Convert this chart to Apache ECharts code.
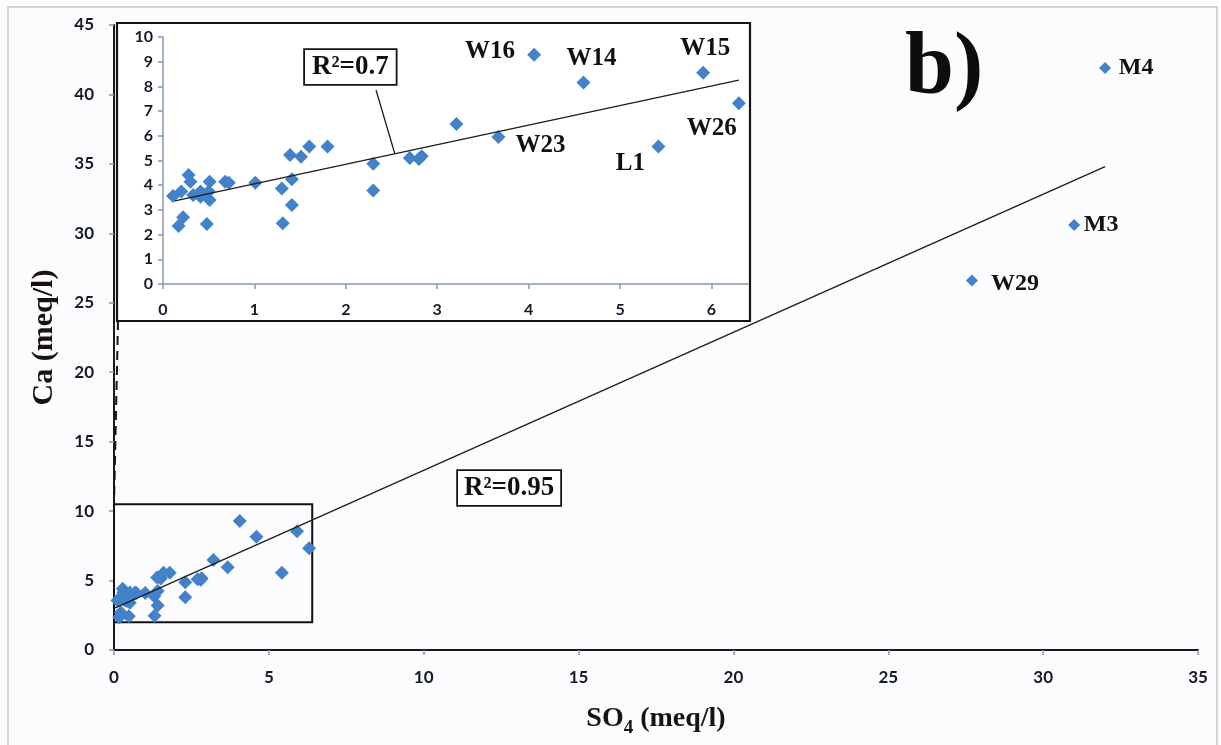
<!DOCTYPE html>
<html><head><meta charset="utf-8">
<script src="https://cdn.jsdelivr.net/npm/echarts@6/dist/echarts.min.js"></script>
<style>html,body{margin:0;padding:0;background:#fcfcfe}#c{width:1221px;height:745px}</style>
</head><body><div id="c"></div>
<script>
// ---------- data ----------
const insetSO4 = [0.11,0.17,0.22,0.20,0.28,0.30,0.33,0.41,0.41,0.48,0.51,0.51,0.50,0.68,0.72,1.01,1.30,1.31,1.39,1.41,1.41,1.51,1.60,1.80,2.30,2.30,2.70,2.80,2.83,3.21,3.67,4.06,4.60,5.42,5.91,6.30];
const insetCa  = [3.56,2.35,2.70,3.74,4.41,4.14,3.60,3.74,3.53,2.43,4.14,3.40,3.74,4.14,4.10,4.10,3.87,2.46,5.22,4.24,3.20,5.15,5.57,5.57,4.87,3.79,5.10,5.06,5.17,6.48,5.95,9.28,8.16,5.57,8.55,7.32];
const insetIds = ['','','','','','','','','','','','','','','','','','','','','','','','','','','','','','','W23','W16','W14','L1','W15','W26'];
const mainSO4 = [27.7, 31.0, 32.0];
const mainCa  = [26.6, 30.6, 41.9];
const mainIds = ['W29','M3','M4'];
const mainTrendX = [0, 32];
const mainTrendY = [3.0, 34.8];
const insetTrendX = [0.13, 6.3];
const insetTrendY = [3.37, 8.25];
const mainR2 = 'R²=0.95';
const insetR2 = 'R²=0.7';
const zoomBoxX = [0, 6.4];
const zoomBoxY = [2, 10.5];
const mainXTicks = [0,5,10,15,20,25,30,35];
const mainYTicks = [0,5,10,15,20,25,30,35,40,45];
const insetXTicks = [0,1,2,3,4,5,6];
const insetYTicks = [0,1,2,3,4,5,6,7,8,9,10];
const panelLabel = 'b)';
const yTitle = 'Ca (meq/l)';

// ---------- styles ----------
const SANS = 'Lato, "Open Sans", sans-serif';
const SERIF = '"Liberation Serif", "Times New Roman", serif';
const AXC = '#8698ae';
const BLUE = '#4382c8';
const labelOffsets = {
  W16:[-44,-3], W14:[8,-24], W15:[2,-24], W26:[-27,25], W23:[42,9], L1:[-28,17],
  M4:[31,0], M3:[27,0], W29:[43,3]
};
function pts(xs, ys, ids, fs){
  return xs.map((x,i)=>{
    const d = {value:[x, ys[i]]};
    if (ids && ids[i]) {
      d.label = {show:true, formatter: ids[i], position:'inside', offset: labelOffsets[ids[i]],
        fontFamily: SERIF, fontWeight:'bold', fontSize: fs, color:'#111'};
    }
    return d;
  });
}
function tickLabel(size, margin){
  return {fontFamily:SANS, fontWeight:'bold', fontSize:size, color:'#141a28', margin:margin};
}
const chart = echarts.init(document.getElementById('c'), null, {renderer:'canvas'});
const option = {
  backgroundColor:'#fcfcfe',
  animation:false,
  grid:[
    {left:114, top:25, width:1084, height:625},
    {left:163, top:37, width:585, height:247}
  ],
  xAxis:[
    {gridIndex:0, type:'value', min:0, max:35, interval:5, splitLine:{show:false},
     axisLine:{onZero:false, lineStyle:{color:AXC, width:1.5}},
     axisTick:{length:5, lineStyle:{color:AXC, width:1.5}, customValues: mainXTicks},
     axisLabel:Object.assign(tickLabel(17,19), {customValues: mainXTicks}),
     name: '{a|SO}{s|4}{a| (meq/l)}', nameLocation:'middle', nameGap:50,
     nameTextStyle:{rich:{
       a:{fontFamily:SERIF, fontWeight:'bold', fontSize:28, color:'#1a1212', lineHeight:38},
       s:{fontFamily:SERIF, fontWeight:'bold', fontSize:19, color:'#1a1212', lineHeight:38, verticalAlign:'bottom'}
     }}},
    {gridIndex:1, type:'value', min:0, max:6.4, interval:1, splitLine:{show:false},
     axisLine:{onZero:false, lineStyle:{color:AXC, width:1.5}},
     axisTick:{length:5, lineStyle:{color:AXC, width:1.5}, customValues: insetXTicks},
     axisLabel:Object.assign(tickLabel(16,18), {customValues: insetXTicks})},
    {gridIndex:0, type:'value', min:0, max:35, position:'top', splitLine:{show:false},
     axisLine:{show:true, lineStyle:{color:'#1a1a1a', width:2}}, axisTick:{show:false}, axisLabel:{show:false}}
  ],
  yAxis:[
    {gridIndex:0, type:'value', min:0, max:45, interval:5, splitLine:{show:false},
     axisLine:{show:true, onZero:false, lineStyle:{color:AXC, width:1.5}},
     axisTick:{show:true, length:5, lineStyle:{color:AXC, width:1.5}, customValues: mainYTicks},
     axisLabel:Object.assign(tickLabel(17,20), {customValues: mainYTicks}),
     name: yTitle, nameLocation:'middle', nameGap:55, nameRotate:90,
     nameTextStyle:{fontFamily:SERIF, fontWeight:'bold', fontSize:30, color:'#1a1212'}},
    {gridIndex:1, type:'value', min:0, max:10, interval:1, splitLine:{show:false},
     axisLine:{show:true, onZero:false, lineStyle:{color:AXC, width:1.5}},
     axisTick:{show:true, length:5, lineStyle:{color:AXC, width:1.5}, customValues: insetYTicks},
     axisLabel:Object.assign(tickLabel(16,10), {customValues: insetYTicks})},
    {gridIndex:0, type:'value', min:0, max:45, position:'right', splitLine:{show:false},
     axisLine:{show:true, lineStyle:{color:'#1a1a1a', width:2}}, axisTick:{show:false}, axisLabel:{show:false}}
  ],
  series:[
    {type:'line', xAxisIndex:0, yAxisIndex:0, data: mainTrendX.map((x,i)=>[x, mainTrendY[i]]),
     showSymbol:false, lineStyle:{color:'#1c1c1c', width:1.3}, z:3, silent:true},
    {type:'scatter', xAxisIndex:0, yAxisIndex:0, data: pts(insetSO4, insetCa, null, 0),
     symbol:'diamond', symbolSize:14, itemStyle:{color:BLUE, opacity:1}, z:2,
     markArea:{silent:true, itemStyle:{color:'rgba(0,0,0,0)', borderColor:'#111', borderWidth:2},
       data:[[{coord:[zoomBoxX[0], zoomBoxY[0]]},{coord:[zoomBoxX[1], zoomBoxY[1]]}]]}},
    {type:'scatter', xAxisIndex:0, yAxisIndex:0, data: pts(mainSO4, mainCa, mainIds, 24),
     symbol:'diamond', symbolSize:12, itemStyle:{color:BLUE, opacity:1}, z:4},
    {type:'scatter', xAxisIndex:1, yAxisIndex:1, data: pts(insetSO4, insetCa, insetIds, 25),
     symbol:'diamond', symbolSize:14, itemStyle:{color:BLUE, opacity:1}, z:4},
    {type:'line', xAxisIndex:1, yAxisIndex:1, data: insetTrendX.map((x,i)=>[x, insetTrendY[i]]),
     showSymbol:false, lineStyle:{color:'#1c1c1c', width:1.3}, z:5, silent:true}
  ]
};
chart.setOption(option);

// annotations (frames, connectors, R² boxes)
const insetBox = {x:117, y:23, w:633, h:298};
const zTopLeft = chart.convertToPixel({xAxisIndex:0, yAxisIndex:0}, [zoomBoxX[0], zoomBoxY[1]]);
const conX = insetTrendX[0] + (insetTrendX[1]-insetTrendX[0])*0.39;
const conY = insetTrendY[0] + (insetTrendY[1]-insetTrendY[0])*0.39;
const conPt = chart.convertToPixel({xAxisIndex:1, yAxisIndex:1}, [conX, conY]);
chart.setOption({
  graphic:[
    {type:'rect', z:-1, shape:{x:8, y:7, width:1209, height:745}, style:{fill:'#fcfcfe', stroke:'#c4c8cc', lineWidth:1.5}},
    {type:'rect', z:-1, shape:{x:insetBox.x, y:insetBox.y, width:insetBox.w, height:insetBox.h}, style:{fill:'#ffffff', stroke:'none'}},
    {type:'rect', z:50, shape:{x:insetBox.x, y:insetBox.y, width:insetBox.w, height:insetBox.h}, style:{fill:'none', stroke:'#141414', lineWidth:2.2}},
    {type:'line', z:50, shape:{x1:insetBox.x+1, y1:insetBox.y+insetBox.h, x2:zTopLeft[0], y2:zTopLeft[1]},
     style:{stroke:'#141414', lineWidth:2, lineDash:[9,6]}},
    {type:'line', z:50, shape:{x1:376, y1:90, x2:conPt[0], y2:conPt[1]}, style:{stroke:'#141414', lineWidth:1.2}},
    {type:'text', z:60, x:305, y:50, style:{text:insetR2, font:'bold 27px "Liberation Serif", serif', fill:'#111',
      backgroundColor:'#ffffff', borderColor:'#141414', borderWidth:1.8, padding:[4,7,3,7]}},
    {type:'text', z:60, x:458, y:471, style:{text:mainR2, font:'bold 27px "Liberation Serif", serif', fill:'#111',
      backgroundColor:'#ffffff', borderColor:'#141414', borderWidth:1.8, padding:[4,6,3,6]}},
    {type:'text', z:60, x:905, y:70, style:{text:panelLabel, font:'bold 88px "Liberation Serif", serif', fill:'#0d0d0d',
      verticalAlign:'middle'}}
  ]
});
</script>
</body></html>
